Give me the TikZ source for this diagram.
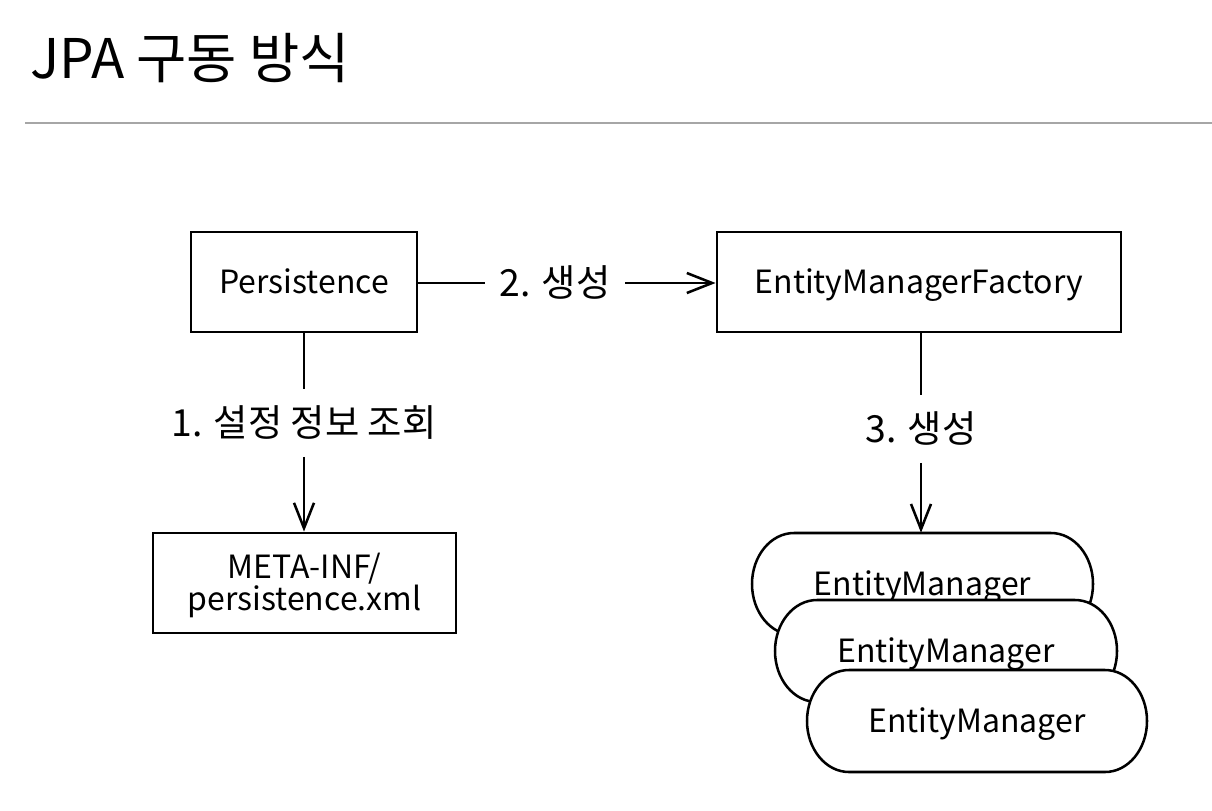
\documentclass[tikz,border=0pt]{standalone}
\usepackage{fontspec}
\setmainfont{Noto Sans CJK KR}
\usetikzlibrary{arrows.meta}
\begin{document}
\begin{tikzpicture}[x=0.75pt,y=-0.75pt,
  boxfont/.style={font=\fontsize{24}{24.75}\selectfont, inner sep=0pt},
  boxtxt/.style={boxfont, text height=17.6pt, text depth=0pt},
  boxline/.style={draw, line width=2.1pt, minimum height=75pt},
  box/.style={boxtxt, boxline},
  lbl/.style={font=\fontsize{28}{32}\selectfont, text height=20.5pt, text depth=0pt, inner xsep=11pt, inner ysep=15pt},
  conn/.style={line width=1.9pt},
  arr/.style={conn, -{Straight Barb[length=19pt,width=15pt]}},
  st/.style={draw, fill=white, line width=1.9pt},
  emnode/.style={boxtxt, minimum width=255.75pt, minimum height=76.5pt}
]
\fill[white] (0,0) rectangle (1212,810);
\useasboundingbox (0,0) rectangle (1212,810);

% title and rule
\node[anchor=base west, font=\fontsize{41}{45}\selectfont, inner sep=0pt] (title) at (30,78) {JPA 구동 방식};
\coordinate (ruleL) at (25,123);
\coordinate (ruleR) at (1212,123);
\draw[black!35, line width=1.5pt] (ruleL) -- (ruleR);

% boxes
\node[box, minimum width=169.5pt] (pers) at (304,282) {Persistence};
\node[box, minimum width=303pt] (emf) at (919,282) {EntityManagerFactory};
\node[boxfont, boxline, minimum width=227.25pt, align=center, text height=40.5pt, text depth=0pt] (meta) at (304.5,583) {META-INF/\\[-0.75pt]persistence.xml};

% labels
\node[lbl] (l2) at (555,283) {2. 생성};
\node[lbl] (l1) at (304,423) {1. 설정 정보 조회};
\node[lbl] (l3) at (921,429) {3. 생성};

% stadiums
\draw[st] (794,533) -- (1051,533) arc[start angle=90,end angle=-90,x radius=31.5pt,y radius=38.25pt] -- (794,635) arc[start angle=-90,end angle=-270,x radius=31.5pt,y radius=38.25pt] -- cycle;
\node[emnode] (em1) at (922.5,584) {EntityManager};
\draw[st] (817,600) -- (1075,600) arc[start angle=90,end angle=-90,x radius=31.5pt,y radius=38.25pt] -- (817,702) arc[start angle=-90,end angle=-270,x radius=31.5pt,y radius=38.25pt] -- cycle;
\node[emnode] (em2) at (946,651) {EntityManager};
\draw[st] (849,670) -- (1105,670) arc[start angle=90,end angle=-90,x radius=31.5pt,y radius=38.25pt] -- (849,772) arc[start angle=-90,end angle=-270,x radius=31.5pt,y radius=38.25pt] -- cycle;
\node[emnode] (em3) at (977,721) {EntityManager};

% connectors
\draw[conn] (pers.east |- l2.west) -- (l2.west);
\draw[arr] (l2.east) -- (emf.west |- l2.east);
\draw[conn] (pers.south) -- (l1.north);
\draw[arr] (l1.south) -- (meta.north -| l1.south);
\draw[conn] (emf.south -| l3.north) -- (l3.north);
\draw[arr] (l3.south) -- (em1.north -| l3.south);
\end{tikzpicture}
\end{document}
